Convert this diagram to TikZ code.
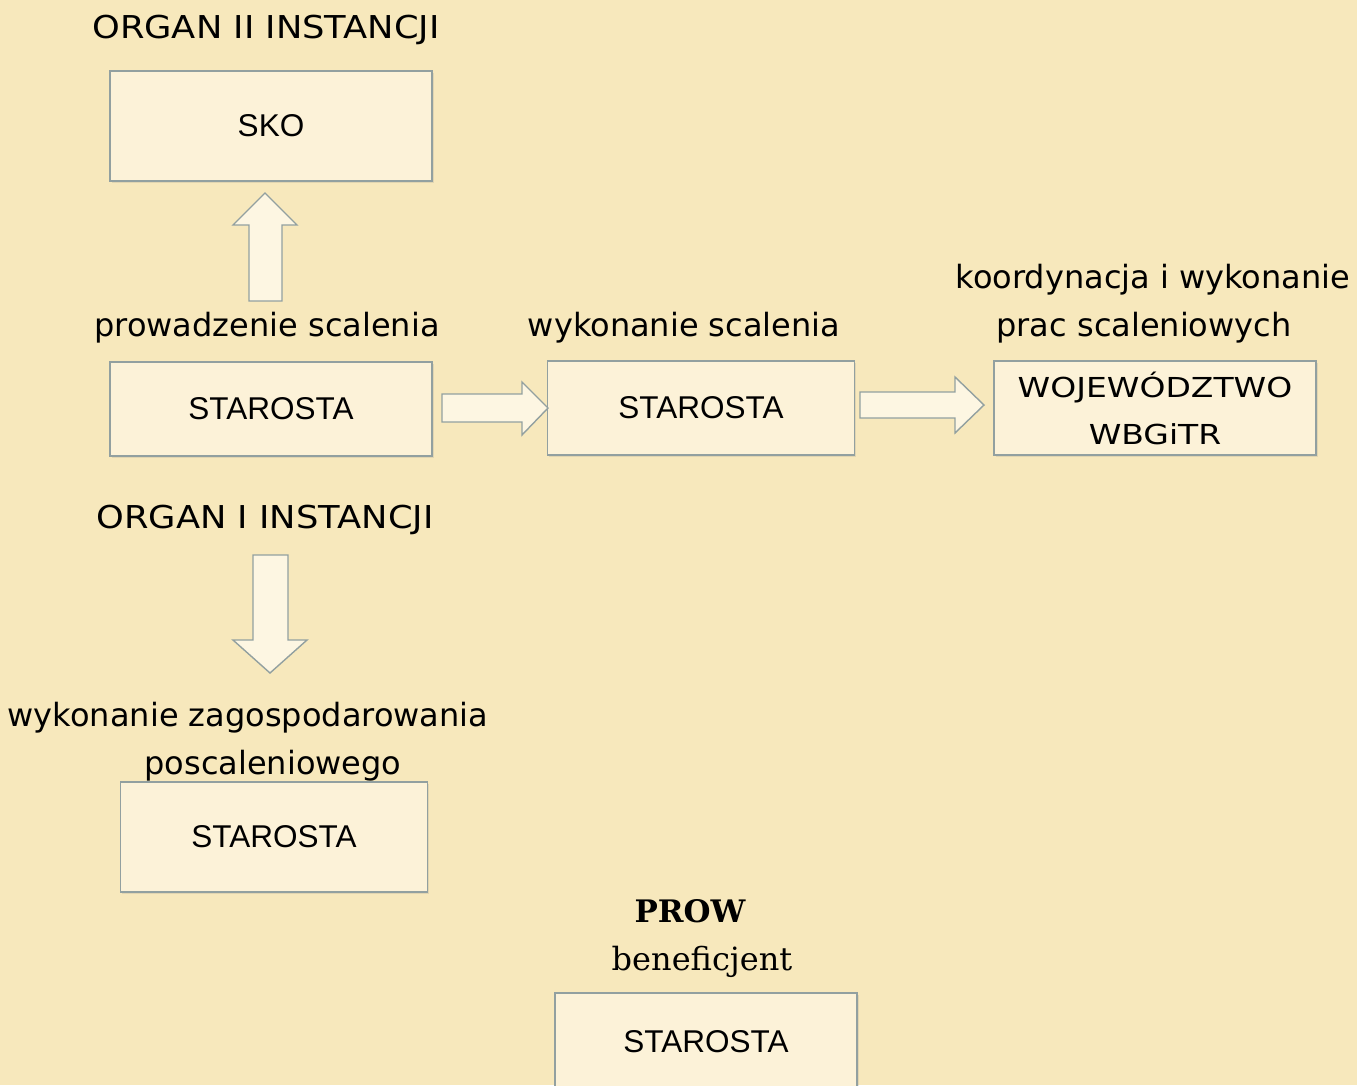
\documentclass[tikz,border=0pt]{standalone}
\usepackage{fontspec}
\setmainfont{DejaVu Sans}
\newfontfamily\widefont[FakeStretch=1.12]{DejaVu Sans}
\newfontfamily\wojfont[FakeStretch=1.2]{DejaVu Sans}
\newfontfamily\arialfont{Liberation Sans}
\newfontfamily\seriffont{DejaVu Serif}
\usepackage{tikz}
\usetikzlibrary{positioning,calc,shadows}

\definecolor{bgbeige}{RGB}{247,232,188}
\definecolor{boxfill}{RGB}{252,242,216}
\definecolor{boxline}{RGB}{146,160,160}
\definecolor{arrfill}{RGB}{253,246,226}

\begin{document}
\begin{tikzpicture}[
    x=1pt, y=-1pt,
    box/.style={rectangle, draw=boxline, line width=1.6pt, fill=boxfill,
        minimum width=322pt, minimum height=94pt, inner sep=0pt, align=center,
        font=\arialfont\fontsize{31.5}{47}\selectfont,
        drop shadow={opacity=0.18, shadow xshift=1.5pt, shadow yshift=-1.5pt}},
    lbl/.style={anchor=base, inner sep=0pt, font=\fontsize{32}{48}\selectfont},
    caplbl/.style={lbl, font=\widefont\fontsize{31.5}{48}\selectfont},
    barrow/.style={draw=boxline, line width=1.4pt, fill=arrfill, line join=miter}
]
    \fill[bgbeige] (0,0) rectangle (1357,1085);
    \useasboundingbox (0,0) rectangle (1357,1085);

    % boxes
    \node[box, minimum height=110pt] (sko) at (271,126) {SKO};
    \node[box] (star1) at (271,409) {STAROSTA};
    \node[box, minimum width=307pt] (star2) at (701,408) {STAROSTA};
    \node[box, font=\wojfont\fontsize{27.5}{47}\selectfont] (woj) at (1155,408) {WOJEWÓDZTWO\\WBGiTR};
    \node[box, minimum width=307pt, minimum height=110pt] (star3) at (274,837) {STAROSTA};
    \node[box, minimum width=302pt, minimum height=110pt] (star4) at (706,1048) {};
    \node[font=\arialfont\fontsize{31.5}{47}\selectfont] (star4txt) at (706,1042) {STAROSTA};

    % labels
    \node[caplbl] (organ2) at (266,38) {ORGAN II INSTANCJI};
    \node[lbl] (prow1) at (267,336) {prowadzenie scalenia};
    \node[lbl] (wyk1) at (684,336) {wykonanie scalenia};
    \node[lbl] (koord) at (1153,288) {koordynacja i wykonanie};
    \node[lbl] (prac) at (1144,336) {prac scaleniowych};
    \node[caplbl] (organ1) at (265,528) {ORGAN I INSTANCJI};
    \node[lbl] (zagosp) at (248,726) {wykonanie zagospodarowania};
    \node[lbl] (posc) at (273,774) {poscaleniowego};
    \node[lbl, font=\seriffont\bfseries\fontsize{31}{48}\selectfont] (prow) at (690,922) {PROW};
    \node[lbl, font=\seriffont\fontsize{32}{48}\selectfont] (benef) at (702,970) {beneficjent};

    % block arrows
    \draw[barrow] (249,301) -- (249,225) -- (233,225) -- (265,193)
        -- (297,225) -- (282,225) -- (282,301) -- cycle;
    \draw[barrow] (442,394) -- (522,394) -- (522,382) -- (548,408)
        -- (522,435) -- (522,422) -- (442,422) -- cycle;
    \draw[barrow] (860,392) -- (955,392) -- (955,377) -- (984,405)
        -- (955,433) -- (955,418) -- (860,418) -- cycle;
    \draw[barrow] (253,555) -- (288,555) -- (288,640) -- (307,640)
        -- (270,673) -- (233,640) -- (253,640) -- cycle;
\end{tikzpicture}
\end{document}
